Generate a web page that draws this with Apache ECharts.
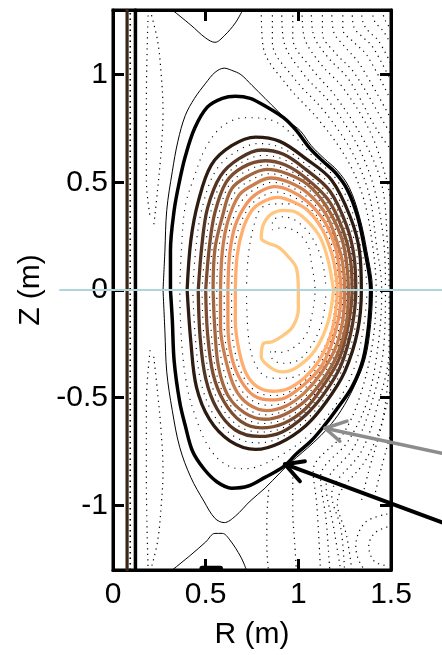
<!DOCTYPE html>
<html>
<head>
<meta charset="utf-8">
<script src="https://cdn.jsdelivr.net/npm/echarts@6/dist/echarts.min.js"></script>
<style>
html,body{margin:0;padding:0;background:#fff;}
#chart{width:442px;height:655px;}
</style>
</head>
<body>
<div id="chart"></div>
<script>
// ---------- axis ticks ----------
const rTicks = [0, 0.5, 1, 1.5];
const zTicks = [-1, -0.5, 0, 0.5, 1];

// ---------- solid flux contours (R, Z), outer -> inner ----------
const contourColors = ['#2c1b11','#543422','#7c4d31','#a26641','#c97e50','#ef955f','#ffae6f','#ffc77f'];
const c1 = [[0.40,0.00],[0.42,0.23],[0.46,0.41],[0.53,0.58],[0.64,0.67],[0.77,0.71],[0.90,0.69],[1.04,0.61],[1.18,0.51],[1.28,0.34],[1.33,0.18],[1.34,0.00],[1.32,-0.19],[1.25,-0.38],[1.15,-0.52],[1.04,-0.63],[0.90,-0.71],[0.77,-0.74],[0.63,-0.70],[0.52,-0.60],[0.45,-0.45],[0.42,-0.24]];
const c2 = [[0.46,0.00],[0.48,0.21],[0.51,0.38],[0.58,0.53],[0.68,0.61],[0.80,0.65],[0.92,0.63],[1.04,0.56],[1.17,0.46],[1.26,0.30],[1.30,0.16],[1.31,0.00],[1.29,-0.17],[1.23,-0.35],[1.14,-0.48],[1.04,-0.58],[0.91,-0.66],[0.79,-0.68],[0.66,-0.65],[0.56,-0.55],[0.50,-0.41],[0.47,-0.22]];
const c3 = [[0.50,0.00],[0.52,0.20],[0.55,0.36],[0.61,0.50],[0.70,0.57],[0.82,0.60],[0.93,0.58],[1.04,0.52],[1.16,0.42],[1.24,0.28],[1.28,0.15],[1.29,0.00],[1.27,-0.16],[1.22,-0.32],[1.13,-0.45],[1.04,-0.55],[0.92,-0.62],[0.80,-0.64],[0.69,-0.61],[0.60,-0.52],[0.54,-0.39],[0.51,-0.20]];
const c4 = [[0.54,0.00],[0.55,0.19],[0.59,0.34],[0.64,0.47],[0.73,0.53],[0.83,0.56],[0.94,0.54],[1.05,0.49],[1.15,0.39],[1.23,0.25],[1.26,0.13],[1.27,0.00],[1.26,-0.15],[1.21,-0.30],[1.13,-0.42],[1.03,-0.52],[0.92,-0.58],[0.82,-0.60],[0.71,-0.57],[0.62,-0.49],[0.57,-0.36],[0.55,-0.19]];
const c5 = [[0.58,0.00],[0.59,0.18],[0.62,0.32],[0.68,0.44],[0.76,0.49],[0.85,0.52],[0.95,0.50],[1.05,0.45],[1.15,0.35],[1.21,0.22],[1.24,0.12],[1.25,0.00],[1.24,-0.14],[1.20,-0.27],[1.12,-0.39],[1.03,-0.48],[0.93,-0.54],[0.83,-0.56],[0.73,-0.53],[0.66,-0.46],[0.61,-0.33],[0.58,-0.17]];
const c6 = [[0.62,0.00],[0.63,0.17],[0.66,0.30],[0.72,0.40],[0.78,0.45],[0.87,0.48],[0.96,0.46],[1.05,0.41],[1.14,0.32],[1.20,0.20],[1.22,0.10],[1.23,0.00],[1.22,-0.12],[1.18,-0.25],[1.12,-0.36],[1.03,-0.44],[0.93,-0.50],[0.85,-0.51],[0.76,-0.49],[0.69,-0.42],[0.64,-0.31],[0.62,-0.16]];
const c7 = [[0.66,0.00],[0.67,0.16],[0.70,0.28],[0.75,0.37],[0.81,0.41],[0.89,0.43],[0.97,0.41],[1.05,0.37],[1.13,0.28],[1.18,0.17],[1.20,0.09],[1.21,0.00],[1.20,-0.11],[1.17,-0.22],[1.11,-0.33],[1.03,-0.41],[0.94,-0.46],[0.86,-0.47],[0.78,-0.45],[0.72,-0.39],[0.68,-0.28],[0.66,-0.14]];
const c8 = [[1.19,0.00],[1.16,-0.15],[1.09,-0.28],[0.99,-0.36],[0.91,-0.38],[0.85,-0.36],[0.80,-0.31],[0.81,-0.25],[0.86,-0.24],[0.92,-0.21],[0.97,-0.17],[1.00,-0.09],[1.00,0.00],[0.99,0.10],[0.94,0.16],[0.89,0.20],[0.83,0.22],[0.80,0.24],[0.81,0.30],[0.85,0.35],[0.92,0.37],[0.99,0.36],[1.06,0.31],[1.12,0.24],[1.16,0.14]];

// last closed flux surface (thick black) and separatrix (thin black)
const lcfs = [[0.31,0.00],[0.31,0.18],[0.33,0.37],[0.36,0.51],[0.39,0.62],[0.44,0.75],[0.51,0.85],[0.59,0.89],[0.66,0.90],[0.74,0.89],[0.83,0.85],[0.92,0.80],[0.99,0.74],[1.06,0.66],[1.13,0.60],[1.20,0.545],[1.265,0.465],[1.32,0.34],[1.36,0.18],[1.39,0.00],[1.38,-0.16],[1.35,-0.32],[1.29,-0.45],[1.21,-0.55],[1.14,-0.63],[1.07,-0.70],[0.99,-0.76],[0.92,-0.82],[0.82,-0.87],[0.73,-0.91],[0.64,-0.92],[0.56,-0.89],[0.49,-0.83],[0.43,-0.75],[0.39,-0.63],[0.36,-0.52],[0.33,-0.33],[0.32,-0.14]];
const separatrix = [[0.27,0.00],[0.28,-0.19],[0.29,-0.38],[0.32,-0.56],[0.36,-0.73],[0.42,-0.87],[0.49,-0.98],[0.55,-1.06],[0.60,-1.08],[0.66,-1.05],[0.74,-0.98],[0.82,-0.92],[0.90,-0.85],[0.96,-0.80],[1.08,-0.71],[1.16,-0.64],[1.23,-0.56],[1.30,-0.45],[1.36,-0.32],[1.39,-0.16],[1.40,0.00],[1.37,0.18],[1.33,0.34],[1.275,0.475],[1.21,0.555],[1.14,0.61],[1.07,0.67],[1.01,0.74],[0.95,0.78],[0.89,0.83],[0.82,0.89],[0.75,0.95],[0.69,1.00],[0.64,1.02],[0.60,1.03],[0.55,1.01],[0.50,0.96],[0.44,0.89],[0.39,0.81],[0.35,0.69],[0.32,0.55],[0.29,0.37],[0.28,0.18]];
const topLeg = [[0.32,1.30],[0.42,1.23],[0.50,1.17],[0.55,1.15],[0.60,1.18],[0.66,1.24],[0.70,1.30]];
const botLeg = [[0.32,-1.30],[0.42,-1.23],[0.50,-1.17],[0.55,-1.13],[0.59,-1.13],[0.63,-1.16],[0.69,-1.24],[0.72,-1.30]];

// centre-column coils (R positions) and a small lower coil
const coilBrownR = 0.076;
const coilBlackR = 0.121;
const coilDotR = 0.093;
const zSpan = [-1.3, 1.3];
const lowerCoil = [[0.48,-1.292],[0.58,-1.292]];

// ---------- dotted flux contours ----------
// inside the plasma (closed)
const dotClosed = [
  [[0.36,0.00],[0.37,0.20],[0.39,0.39],[0.44,0.53],[0.50,0.66],[0.59,0.76],[0.71,0.80],[0.85,0.79],[0.97,0.72],[1.09,0.61],[1.20,0.52],[1.28,0.39],[1.33,0.23],[1.37,0.00],[1.35,-0.18],[1.31,-0.34],[1.24,-0.48],[1.16,-0.58],[1.05,-0.68],[0.92,-0.76],[0.78,-0.82],[0.69,-0.83],[0.59,-0.80],[0.51,-0.72],[0.45,-0.60],[0.40,-0.45],[0.37,-0.24]],
  [[0.43,0.00],[0.45,0.22],[0.485,0.395],[0.555,0.555],[0.66,0.64],[0.785,0.68],[0.91,0.66],[1.04,0.585],[1.175,0.485],[1.27,0.32],[1.315,0.17],[1.325,0.00],[1.305,-0.18],[1.24,-0.365],[1.145,-0.50],[1.04,-0.605],[0.905,-0.685],[0.78,-0.71],[0.645,-0.675],[0.54,-0.575],[0.475,-0.43],[0.445,-0.23]],
  [[0.48,0.00],[0.50,0.205],[0.53,0.37],[0.595,0.515],[0.69,0.59],[0.81,0.625],[0.925,0.605],[1.04,0.54],[1.165,0.44],[1.25,0.29],[1.29,0.155],[1.30,0.00],[1.28,-0.165],[1.225,-0.335],[1.135,-0.465],[1.04,-0.565],[0.915,-0.64],[0.795,-0.66],[0.675,-0.63],[0.58,-0.535],[0.52,-0.40],[0.49,-0.21]],
  [[0.52,0.00],[0.535,0.195],[0.57,0.35],[0.625,0.485],[0.715,0.55],[0.825,0.58],[0.935,0.56],[1.045,0.505],[1.155,0.405],[1.235,0.265],[1.27,0.14],[1.28,0.00],[1.265,-0.155],[1.215,-0.31],[1.13,-0.435],[1.035,-0.535],[0.92,-0.60],[0.81,-0.62],[0.70,-0.59],[0.61,-0.505],[0.555,-0.375],[0.53,-0.195]],
  [[0.56,0.00],[0.57,0.185],[0.605,0.33],[0.66,0.455],[0.745,0.51],[0.84,0.54],[0.945,0.52],[1.05,0.47],[1.15,0.37],[1.22,0.235],[1.25,0.125],[1.26,0.00],[1.25,-0.145],[1.205,-0.285],[1.125,-0.405],[1.03,-0.50],[0.925,-0.56],[0.825,-0.58],[0.72,-0.55],[0.64,-0.475],[0.59,-0.345],[0.565,-0.18]],
  [[0.60,0.00],[0.61,0.175],[0.64,0.31],[0.70,0.42],[0.77,0.47],[0.86,0.50],[0.955,0.48],[1.05,0.43],[1.145,0.335],[1.205,0.21],[1.23,0.11],[1.24,0.00],[1.23,-0.13],[1.19,-0.26],[1.12,-0.375],[1.03,-0.46],[0.93,-0.52],[0.84,-0.535],[0.745,-0.51],[0.675,-0.44],[0.625,-0.32],[0.60,-0.165]],
  [[0.64,0.00],[0.65,0.165],[0.68,0.29],[0.735,0.385],[0.795,0.43],[0.88,0.455],[0.965,0.435],[1.05,0.39],[1.135,0.30],[1.19,0.185],[1.21,0.095],[1.22,0.00],[1.21,-0.115],[1.175,-0.235],[1.115,-0.345],[1.03,-0.425],[0.935,-0.48],[0.855,-0.49],[0.77,-0.47],[0.705,-0.405],[0.66,-0.295],[0.64,-0.15]],
  [[0.72,0.00],[0.73,0.16],[0.76,0.30],[0.80,0.38],[0.87,0.40],[0.96,0.40],[1.04,0.38],[1.11,0.32],[1.16,0.23],[1.19,0.13],[1.20,0.00],[1.19,-0.13],[1.15,-0.25],[1.08,-0.34],[0.99,-0.40],[0.90,-0.41],[0.82,-0.40],[0.76,-0.33],[0.73,-0.21]],
  [[1.15,0.00],[1.13,-0.14],[1.07,-0.26],[0.99,-0.33],[0.91,-0.34],[0.86,-0.32],[0.85,-0.28],[0.90,-0.29],[0.97,-0.27],[1.04,-0.21],[1.07,-0.13],[1.09,0.00],[1.07,0.13],[1.05,0.21],[0.99,0.27],[0.92,0.29],[0.86,0.28],[0.86,0.32],[0.92,0.34],[0.99,0.32],[1.07,0.25],[1.13,0.13]]
];
// outside the plasma (open)
const dotOpen = [
  // left of plasma
  [[0.19,1.30],[0.18,0.88],[0.18,0.51],[0.20,0.34]],
  [[0.20,-0.28],[0.18,-0.52],[0.18,-0.89],[0.19,-1.31]],
  [[0.20,1.30],[0.24,1.16],[0.26,1.00],[0.27,0.83],[0.26,0.65],[0.24,0.46],[0.22,0.30]],
  [[0.22,-0.31],[0.24,-0.47],[0.26,-0.66],[0.27,-0.84],[0.26,-1.00],[0.24,-1.17],[0.20,-1.31]],
  // right of plasma: lines wrapping round the plasma, top to bottom
  [[0.80,1.30],[0.81,1.13],[0.94,0.95],[1.11,0.79],[1.26,0.61],[1.35,0.43],[1.40,0.21],[1.42,0.00],[1.40,-0.25],[1.33,-0.50],[1.24,-0.67],[1.08,-0.84],[1.10,-1.00],[1.12,-1.31]],
  [[0.86,1.30],[0.86,1.15],[0.98,0.98],[1.14,0.83],[1.29,0.64],[1.38,0.45],[1.42,0.22],[1.45,0.00],[1.43,-0.26],[1.37,-0.52],[1.27,-0.70],[1.12,-0.87],[1.15,-1.07],[1.17,-1.31]],
  [[0.91,1.30],[0.92,1.16],[1.03,1.00],[1.17,0.87],[1.32,0.67],[1.41,0.47],[1.46,0.23],[1.47,0.00],[1.46,-0.27],[1.39,-0.54],[1.30,-0.73],[1.15,-0.91],[1.19,-1.10],[1.23,-1.31]],
  [[0.97,1.30],[0.97,1.17],[1.07,1.03],[1.20,0.90],[1.35,0.70],[1.45,0.49],[1.48,0.23],[1.49,0.00],[1.49,-0.27],[1.42,-0.56],[1.34,-0.75],[1.18,-0.95],[1.23,-1.11],[1.25,-1.31]],
  // right of plasma: lines leaving through the right edge
  [[1.02,1.30],[1.03,1.18],[1.12,1.05],[1.24,0.94],[1.39,0.73],[1.48,0.50],[1.50,0.39]],
  [[1.50,-0.19],[1.46,-0.58],[1.37,-0.78],[1.21,-0.99],[1.26,-1.14],[1.29,-1.31]],
  [[1.07,1.30],[1.08,1.19],[1.16,1.08],[1.27,0.98],[1.42,0.75],[1.50,0.65]],
  [[1.13,1.30],[1.13,1.19],[1.20,1.10],[1.30,1.01],[1.46,0.78],[1.50,0.72]],
  [[1.18,1.30],[1.19,1.20],[1.25,1.13],[1.33,1.05],[1.49,0.81]],
  [[1.24,1.30],[1.24,1.21],[1.30,1.15],[1.37,1.09],[1.50,0.88]],
  [[1.29,1.30],[1.30,1.22],[1.34,1.18],[1.40,1.13],[1.50,0.97]],
  [[1.34,1.30],[1.35,1.24],[1.38,1.20],[1.43,1.16],[1.50,1.05]],
  [[1.40,1.30],[1.41,1.25],[1.46,1.20],[1.50,1.14]],
  [[1.45,1.30],[1.47,1.25],[1.50,1.21]],
  [[1.50,-0.45],[1.44,-0.66],[1.38,-0.84],[1.34,-0.98]],
  [[1.50,-0.66],[1.45,-0.82],[1.41,-0.96]],
  // divertor legs below the plasma
  [[0.84,-0.93],[0.83,-1.07],[0.83,-1.19],[0.84,-1.31]],
  [[0.97,-0.87],[0.97,-1.03],[0.98,-1.17],[0.99,-1.31]],
  // arcs round the lower-right coil
  [[1.48,-1.10],[1.41,-1.13],[1.38,-1.19],[1.41,-1.26],[1.48,-1.28]],
  [[1.48,-1.04],[1.36,-1.08],[1.31,-1.19],[1.36,-1.30],[1.48,-1.34]]
];

// ---------- annotations (drawn on a wider, same-scale overlay grid) ----------
const overlayR = [-0.286, 1.776];
const midplane = [[-0.286,0],[1.776,0]];
const grayArrowShaft = [[1.776,-0.758],[1.145,-0.642]];
const grayArrowHead = [[1.263,-0.609],[1.145,-0.642],[1.225,-0.702]];
const blackArrowShaft = [[1.776,-1.079],[0.928,-0.809]];
const blackArrowHead = [[1.036,-0.795],[0.928,-0.809],[1.009,-0.888]];

// ---------- build ----------
const FONT = '"Liberation Sans", Arial, sans-serif';
const series = [];
function addLine(data, color, width, type, opts) {
  const dotted = Array.isArray(type);
  series.push(Object.assign({
    type: 'line', data: data, showSymbol: false, symbol: 'none',
    smooth: 0.35, silent: true, animation: false,
    lineStyle: { color: color, width: width, type: type || 'solid', cap: dotted ? 'butt' : 'round', join: 'round' }
  }, opts || {}));
}
const closeLoop = pts => pts.concat([pts[0]]);
const dotType = [1.2, 4.3];
const dotTypeInner = [1.1, 5.5];

dotClosed.forEach(p => addLine(closeLoop(p), '#000', 1.1, dotTypeInner));
dotOpen.forEach(p => addLine(p, '#000', 1.2, dotType));
addLine([[coilDotR, zSpan[0]],[coilDotR, zSpan[1]]], '#000', 1.6, [1.5, 4], {smooth:false});

addLine([[coilBrownR, zSpan[0]],[coilBrownR, zSpan[1]]], '#3a2517', 3.2, 'solid', {smooth:false});
addLine([[coilBlackR, zSpan[0]],[coilBlackR, zSpan[1]]], '#000', 3.5, 'solid', {smooth:false});
addLine(lowerCoil, '#000', 5, 'solid', {smooth:false});

addLine(topLeg, '#000', 1, 'solid');
addLine(botLeg, '#000', 1, 'solid');
addLine(closeLoop(separatrix), '#000', 1, 'solid');
addLine(closeLoop(lcfs), '#000', 3.5, 'solid');

[c1,c2,c3,c4,c5,c6,c7,c8].forEach((c, i) => addLine(closeLoop(c), contourColors[i], 3.3, 'solid'));

const ov = { smooth: false, clip: false, xAxisIndex: 2, yAxisIndex: 2 };
addLine(midplane, '#acd6da', 2, 'solid', ov);
addLine(grayArrowShaft, '#8c8c8c', 3.5, 'solid', ov);
addLine(grayArrowHead, '#8c8c8c', 3.5, 'solid', ov);
addLine(blackArrowShaft, '#000', 4, 'solid', ov);
addLine(blackArrowHead, '#000', 4, 'solid', ov);

const tickStyle = { color: '#000', width: 3 };
function valueAxis(extra) {
  return Object.assign({
    type: 'value',
    axisLine: { show: true, onZero: false, lineStyle: { color: '#000', width: 3 } },
    splitLine: { show: false }
  }, extra);
}

const chart = echarts.init(document.getElementById('chart'), null, { renderer: 'canvas' });
chart.setOption({
  animation: false,
  backgroundColor: '#fff',
  grid: [
    { left: 113, top: 10, width: 278, height: 560, show: true, borderColor: '#000', borderWidth: 3, backgroundColor: '#fff' },
    { left: 60, top: 10, width: 382, height: 560, show: false }
  ],
  xAxis: [
    valueAxis({ gridIndex: 0, min: 0, max: 1.5, position: 'bottom',
      name: 'R (m)', nameLocation: 'middle', nameGap: 50,
      nameTextStyle: { fontSize: 30, color: '#000', fontFamily: FONT },
      axisTick: { show: true, inside: true, length: 11, customValues: rTicks, lineStyle: tickStyle },
      axisLabel: { show: true, customValues: rTicks, fontSize: 30, color: '#000', fontFamily: FONT, margin: 10,
        formatter: v => String(v) } }),
    valueAxis({ gridIndex: 0, min: 0, max: 1.5, position: 'top',
      axisTick: { show: true, inside: true, length: 11, customValues: rTicks, lineStyle: tickStyle },
      axisLabel: { show: false } }),
    { type: 'value', gridIndex: 1, min: overlayR[0], max: overlayR[1], show: false }
  ],
  yAxis: [
    valueAxis({ gridIndex: 0, min: zSpan[0], max: zSpan[1], position: 'left',
      name: 'Z (m)', nameLocation: 'middle', nameGap: 66, nameRotate: 90,
      nameTextStyle: { fontSize: 30, color: '#000', fontFamily: FONT },
      axisTick: { show: true, inside: true, length: 11, customValues: zTicks, lineStyle: tickStyle },
      axisLabel: { show: true, customValues: zTicks, fontSize: 30, color: '#000', fontFamily: FONT, margin: 5,
        formatter: v => String(v) } }),
    valueAxis({ gridIndex: 0, min: zSpan[0], max: zSpan[1], position: 'right',
      axisTick: { show: true, inside: true, length: 11, customValues: zTicks, lineStyle: tickStyle },
      axisLabel: { show: false } }),
    { type: 'value', gridIndex: 1, min: zSpan[0], max: zSpan[1], show: false }
  ],
  series: series
});
</script>
</body>
</html>
